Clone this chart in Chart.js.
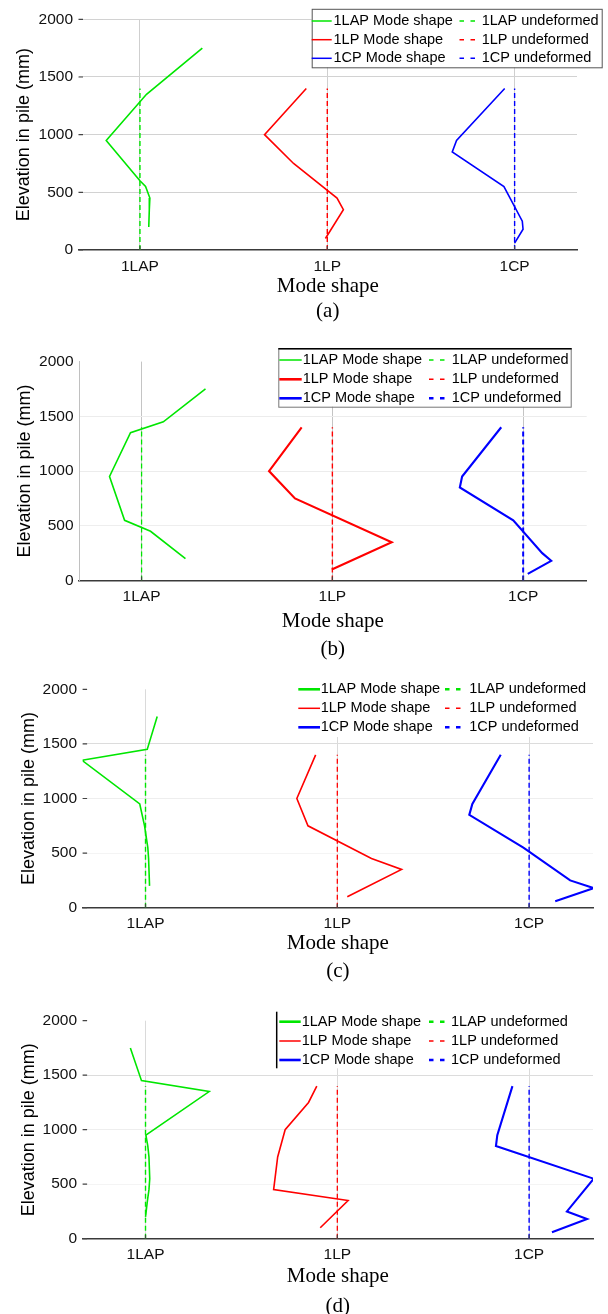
<!DOCTYPE html>
<html>
<head>
<meta charset="utf-8">
<script src="https://cdn.jsdelivr.net/npm/chart.js@4.4.0/dist/chart.umd.min.js"></script>
<style>
  body { margin: 0; background: #fff; }
  #page { position: relative; width: 608px; height: 1314px; overflow: hidden; }
  .panel { position: absolute; left: 0; }
  .caption { position: absolute; width: 100px; text-align: center;
             font: 21px "Liberation Serif", "Times New Roman", serif; line-height: 23px; color: #000; }
</style>
</head>
<body>
<div id="page"></div>
<script>
const categories = ['1LAP', '1LP', '1CP'];
const elevationTicks = [0, 500, 1000, 1500, 2000];
const undeformedElev = [0, 1400];

// (a) elevations (mm) and lateral mode shape offsets
const lapElevA = [1750, 1350, 950, 600, 550, 450, 350, 200];
const lapDispA = [0.333, 0.035, -0.18, 0.0, 0.03, 0.053, 0.05, 0.047];
const lpElevA = [1400, 1000, 750, 450, 350, 100];
const lpDispA = [-0.112, -0.335, -0.18, 0.052, 0.086, -0.01];
const cpElevA = [1400, 950, 850, 550, 250, 180, 60];
const cpDispA = [-0.053, -0.31, -0.333, -0.057, 0.041, 0.045, 0.0];

// (b)
const lapElevB = [1750, 1450, 1350, 950, 550, 450, 200];
const lapDispB = [0.335, 0.114, -0.058, -0.168, -0.089, 0.047, 0.23];
const lpElevB = [1400, 1000, 750, 350, 100];
const lpDispB = [-0.161, -0.332, -0.196, 0.311, -0.003];
const cpElevB = [1400, 950, 850, 550, 250, 180, 60];
const cpDispB = [-0.115, -0.32, -0.332, -0.052, 0.1, 0.147, 0.024];

// (c)
const lapElevC = [1750, 1450, 1350, 950, 750, 550, 450, 200];
const lapDispC = [0.061, 0.009, -0.331, -0.03, -0.005, 0.012, 0.016, 0.021];
const lpElevC = [1400, 1000, 750, 450, 350, 100];
const lpDispC = [-0.113, -0.211, -0.153, 0.178, 0.335, 0.052];
const cpElevC = [1400, 950, 850, 550, 250, 180, 60];
const cpDispC = [-0.148, -0.296, -0.312, -0.03, 0.214, 0.337, 0.136];

// (d)
const lapElevD = [1750, 1450, 1350, 950, 850, 750, 550, 450, 350, 200];
const lapDispD = [-0.079, -0.021, 0.332, 0.002, 0.012, 0.018, 0.022, 0.018, 0.01, 0.0];
const lpElevD = [1400, 1250, 1000, 750, 450, 350, 100];
const lpDispD = [-0.107, -0.15, -0.272, -0.311, -0.332, 0.056, -0.089];
const cpElevD = [1400, 950, 850, 550, 250, 180, 60];
const cpDispD = [-0.087, -0.166, -0.173, 0.337, 0.197, 0.302, 0.119];

const colors = ['#00e600', '#ff0000', '#0000ff'];
const sans = '"Liberation Sans", Arial, sans-serif';
const serif = '"Liberation Serif", "Times New Roman", serif';

const panels = [
  {
    caption: '(a)', top: 0, height: 325, captionY: 310,
    area: { left: 78.5, right: 577, top: 19.3, bottom: 250 },
    yTitlePad: 13.2, xTitlePad: 26.5,
    shapes: [[lapElevA, lapDispA], [lpElevA, lpDispA], [cpElevA, cpDispA]],
    modeWidth: [1.6, 1.6, 1.6], undefWidth: [1.4, 1.4, 1.4],
    gridY: { 500: '#d2d2d2', 1000: '#d2d2d2', 1500: '#d2d2d2', 2000: '#d2d2d2' }, gridX: '#cfcfcf',
    yBorder: null, tickY: true,
    legend: { box: [311.7, 8.8, 290, 58.5], border: 'box', borderColor: '#555',
              rows: [21, 39.7, 58.3], cols: [[311.7, 331.7, 333.5], [459.5, 478.5, 481.7]],
              widths: [1.5, 1.5, 1.5, 1.5, 1.5, 1.5] }
  },
  {
    caption: '(b)', top: 330, height: 330, captionY: 648.3,
    area: { left: 79, right: 586.7, top: 31.6, bottom: 250.5 },
    yTitlePad: 14.2, xTitlePad: 26.8,
    shapes: [[lapElevB, lapDispB], [lpElevB, lpDispB], [cpElevB, cpDispB]],
    modeWidth: [1.6, 2.1, 2.1], undefWidth: [1.3, 1.4, 2],
    gridY: { 500: '#eeeeee', 1000: '#ececec', 1500: '#ececec' }, gridX: '#c4c4c4',
    yBorder: '#c0c0c0', tickY: false,
    legend: { box: [278.3, 18.3, 292.4, 58.4], border: 'topdark', borderColor: '#777',
              rows: [30, 49.3, 68.3], cols: [[279.3, 301.7, 302.7], [429, 446.7, 451.7]],
              widths: [1.5, 1.5, 2.6, 1.5, 2.6, 2.6] }
  },
  {
    caption: '(c)', top: 660, height: 330, captionY: 970,
    area: { left: 82.6, right: 593, top: 29.3, bottom: 247.7 },
    yTitlePad: 18.2, xTitlePad: 34.5,
    shapes: [[lapElevC, lapDispC], [lpElevC, lpDispC], [cpElevC, cpDispC]],
    modeWidth: [1.6, 1.6, 2.1], undefWidth: [1.4, 1.3, 1.4],
    gridY: { 500: '#f4f4f4', 1000: '#eeeeee', 1500: '#dcdcdc' }, gridX: '#dadada',
    yBorder: null, tickY: true,
    legend: { box: [296, 15, 304, 62], border: 'none', borderColor: '#000',
              rows: [29.3, 48.3, 67.3], cols: [[298.3, 320, 320.7], [445, 466.7, 469.3]],
              widths: [2.6, 2.6, 1.5, 1.5, 2.6, 2.6] }
  },
  {
    caption: '(d)', top: 990, height: 324, captionY: 1305,
    area: { left: 82.6, right: 593, top: 30.7, bottom: 248.7 },
    yTitlePad: 18.2, xTitlePad: 25.8,
    shapes: [[lapElevD, lapDispD], [lpElevD, lpDispD], [cpElevD, cpDispD]],
    modeWidth: [1.6, 1.6, 2.1], undefWidth: [1.4, 1.3, 1.4],
    gridY: { 500: '#f4f4f4', 1000: '#eeeeee', 1500: '#dcdcdc' }, gridX: '#dadada',
    yBorder: null, tickY: true,
    legend: { box: [276.7, 21.7, 323, 56.6], border: 'left', borderColor: '#000',
              rows: [31.7, 51, 70], cols: [[279.3, 300.7, 301.7], [429, 446.7, 451]],
              widths: [2.6, 2.6, 1.5, 1.5, 2.6, 2.6] }
  }
];

function points(elev, disp, pos) {
  return elev.map((e, i) => ({ x: pos + disp[i], y: e }));
}

// legend in the upper right, two columns: mode shape | undeformed
const cornerLegend = {
  id: 'cornerLegend',
  afterDraw(chart, args, opts) {
    if (!opts.box) return;
    const ctx = chart.ctx;
    const [bx, by, bw, bh] = opts.box;
    ctx.save();
    ctx.fillStyle = '#fff';
    ctx.fillRect(bx, by, bw, bh);
    ctx.strokeStyle = opts.borderColor;
    ctx.lineWidth = 1;
    if (opts.border === 'box') {
      ctx.strokeRect(bx + 0.5, by + 0.5, bw, bh);
    } else if (opts.border === 'topdark') {
      ctx.strokeRect(bx + 0.5, by + 0.5, bw, bh);
      ctx.strokeStyle = '#000';
      ctx.lineWidth = 1.5;
      ctx.beginPath(); ctx.moveTo(bx, by + 0.5); ctx.lineTo(bx + bw + 1, by + 0.5); ctx.stroke();
    } else if (opts.border === 'left') {
      ctx.lineWidth = 1.5;
      ctx.beginPath(); ctx.moveTo(bx, by); ctx.lineTo(bx, by + bh); ctx.stroke();
    }
    ctx.font = '14.5px ' + sans;
    ctx.textBaseline = 'middle';
    ctx.textAlign = 'left';
    chart.data.datasets.forEach((ds, i) => {
      const y = opts.rows[Math.floor(i / 2)];
      const [x0, x1, tx] = opts.cols[i % 2];
      ctx.strokeStyle = ds.borderColor;
      ctx.lineWidth = opts.widths[i];
      ctx.setLineDash(ds.borderDash ? [4.5, 6.5] : []);
      ctx.beginPath(); ctx.moveTo(x0, y); ctx.lineTo(x1, y); ctx.stroke();
      ctx.setLineDash([]);
      ctx.fillStyle = '#000';
      ctx.fillText(ds.label, tx, y);
    });
    ctx.restore();
  }
};

// short tick marks pointing into the plot area
const innerTicks = {
  id: 'innerTicks',
  afterDatasetsDraw(chart, args, opts) {
    const { ctx, chartArea: a, scales } = chart;
    ctx.save();
    ctx.strokeStyle = '#444';
    ctx.lineWidth = 1.2;
    ctx.beginPath();
    if (opts.y) {
      elevationTicks.forEach(v => {
        const py = scales.y.getPixelForValue(v);
        ctx.moveTo(a.left, py); ctx.lineTo(a.left + 4.5, py);
      });
    }
    categories.forEach((c, i) => {
      const px = scales.x.getPixelForValue(i + 1);
      ctx.moveTo(px, a.bottom); ctx.lineTo(px, a.bottom - 4);
    });
    ctx.stroke();
    ctx.restore();
  }
};

const page = document.getElementById('page');

panels.forEach(p => {
  const wrap = document.createElement('div');
  wrap.className = 'panel';
  wrap.style.top = p.top + 'px';
  const canvas = document.createElement('canvas');
  canvas.width = 608;
  canvas.height = p.height;
  wrap.appendChild(canvas);
  page.appendChild(wrap);

  const cap = document.createElement('div');
  cap.className = 'caption';
  cap.textContent = p.caption;
  cap.style.left = ((p.area.left + p.area.right) / 2 - 50) + 'px';
  cap.style.top = (p.captionY - 11.5) + 'px';
  page.appendChild(cap);

  const datasets = [];
  categories.forEach((name, k) => {
    const [elev, disp] = p.shapes[k];
    datasets.push({
      label: name + ' Mode shape',
      data: points(elev, disp, k + 1),
      borderColor: colors[k], borderWidth: p.modeWidth[k],
      showLine: true, pointRadius: 0, tension: 0
    });
    datasets.push({
      label: name + ' undeformed',
      data: points(undeformedElev, [0, 0], k + 1),
      borderColor: colors[k], borderWidth: p.undefWidth[k], borderDash: [5, 3],
      showLine: true, pointRadius: 0
    });
  });

  new Chart(canvas, {
    type: 'scatter',
    data: { datasets: datasets },
    options: {
      responsive: false,
      animation: false,
      events: [],
      layout: { padding: { left: 0, top: p.area.top, right: 608 - p.area.right, bottom: 0 } },
      plugins: {
        legend: { display: false },
        tooltip: { enabled: false },
        cornerLegend: p.legend,
        innerTicks: { y: p.tickY }
      },
      scales: {
        x: {
          type: 'linear', min: 0.672, max: 3.333,
          afterBuildTicks: s => { s.ticks = categories.map((c, i) => ({ value: i + 1 })); },
          afterFit: s => { s.height = p.height - p.area.bottom; },
          ticks: {
            callback: v => categories[Math.round(v) - 1],
            font: { family: sans, size: 15.5 }, color: '#111', padding: 7,
            maxRotation: 0, autoSkip: false
          },
          grid: { color: p.gridX, lineWidth: 1, drawTicks: false },
          border: { display: true, color: '#3a3a3a', width: 1.5 },
          title: {
            display: true, text: 'Mode shape', color: '#000',
            font: { family: serif, size: 21, lineHeight: 1.1 },
            padding: { top: 0, bottom: p.xTitlePad }
          }
        },
        y: {
          type: 'linear', min: 0, max: 2000,
          afterBuildTicks: s => { s.ticks = elevationTicks.map(v => ({ value: v })); },
          afterFit: s => { s.width = p.area.left; },
          ticks: { callback: v => String(v), font: { family: sans, size: 15.5 }, color: '#111', padding: 5.5 },
          grid: { color: c => p.gridY[c.tick.value] || 'rgba(0,0,0,0)', lineWidth: 1, drawTicks: false },
          border: { display: !!p.yBorder, color: p.yBorder || '#000', width: 1 },
          title: {
            display: true, text: 'Elevation in pile (mm)', color: '#000',
            font: { family: sans, size: 18, lineHeight: 1.2 },
            padding: { top: p.yTitlePad, bottom: 0 }
          }
        }
      }
    },
    plugins: [cornerLegend, innerTicks]
  });
});
</script>
</body>
</html>
